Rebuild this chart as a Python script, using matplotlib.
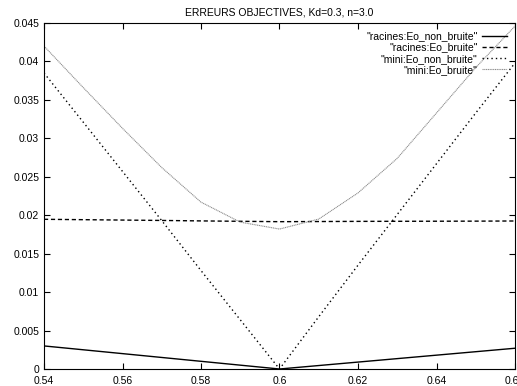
import matplotlib
matplotlib.use("Agg")
import matplotlib.pyplot as plt
import numpy as np

x = [0.54, 0.55, 0.56, 0.57, 0.58, 0.59, 0.60, 0.61, 0.62, 0.63, 0.64, 0.65, 0.66]
racines_non_bruite = [0.0030, 0.0025, 0.0020, 0.0015, 0.0010, 0.0005, 0.0,
                      0.00045, 0.0009, 0.00135, 0.0018, 0.00225, 0.0027]
racines_bruite = [0.01947, 0.01942, 0.01937, 0.01932, 0.01926, 0.01921, 0.01916,
                  0.01918, 0.01920, 0.01921, 0.01922, 0.01923, 0.01925]
mini_non_bruite = [0.0385, 0.0321, 0.0257, 0.0193, 0.0128, 0.0064, 0.0,
                   0.0068, 0.0135, 0.0201, 0.0267, 0.0333, 0.0398]
mini_bruite = [0.0420, 0.0366, 0.0313, 0.0262, 0.0217, 0.0191, 0.0182,
               0.0195, 0.0229, 0.0274, 0.0333, 0.0392, 0.0446]

labels = ['"racines:Eo_non_bruite"', '"racines:Eo_bruite"',
          '"mini:Eo_non_bruite"', '"mini:Eo_bruite"']
title = "ERREURS OBJECTIVES, Kd=0.3, n=3.0"
xticks = [0.54, 0.56, 0.58, 0.6, 0.62, 0.64, 0.66]
xticklabels = ["0.54", "0.56", "0.58", "0.6", "0.62", "0.64", "0.66"]
yticks = [0, 0.005, 0.01, 0.015, 0.02, 0.025, 0.03, 0.035, 0.04, 0.045]
yticklabels = ["0", "0.005", "0.01", "0.015", "0.02", "0.025", "0.03", "0.035", "0.04", "0.045"]

plt.rcParams['font.family'] = ['Liberation Sans', 'DejaVu Sans']

fig = plt.figure(figsize=(5.17, 3.86), dpi=100)
ax = fig.add_axes([44/517, 1-369/386, (515-44)/517, (369-23)/386])

ax.plot(x, racines_non_bruite, color='black', lw=1.0, label=labels[0])
ax.plot(x, racines_bruite, color='black', lw=1.0, dashes=(3, 2), label=labels[1])
ax.plot(x, mini_non_bruite, color='black', lw=1.0, dashes=(1, 2.2), label=labels[2])
ax.plot(x, mini_bruite, color='0.55', lw=0.8, dashes=(1, 0.6), label=labels[3])

ax.set_xlim(0.54, 0.66)
ax.set_ylim(0, 0.045)
ax.set_xticks(xticks)
ax.set_xticklabels(xticklabels)
ax.set_yticks(yticks)
ax.set_yticklabels(yticklabels)
ax.tick_params(direction='in', length=4, width=0.8, labelsize=7.5,
               top=True, right=True, pad=3.5)
ax.tick_params(axis='x', pad=5)
for s in ax.spines.values():
    s.set_linewidth(0.8)
ax.set_title(title, fontsize=7.5, pad=5.5)

leg = ax.legend(loc='upper right', frameon=False, fontsize=7.5,
                markerfirst=False, handlelength=2.4, handletextpad=0.4,
                labelspacing=0.12, borderaxespad=0.5, borderpad=0.3)
for t in leg.get_texts():
    t.set_ha('right')
leg._legend_box.align = "right"

fig.savefig("out.png", dpi=100)
